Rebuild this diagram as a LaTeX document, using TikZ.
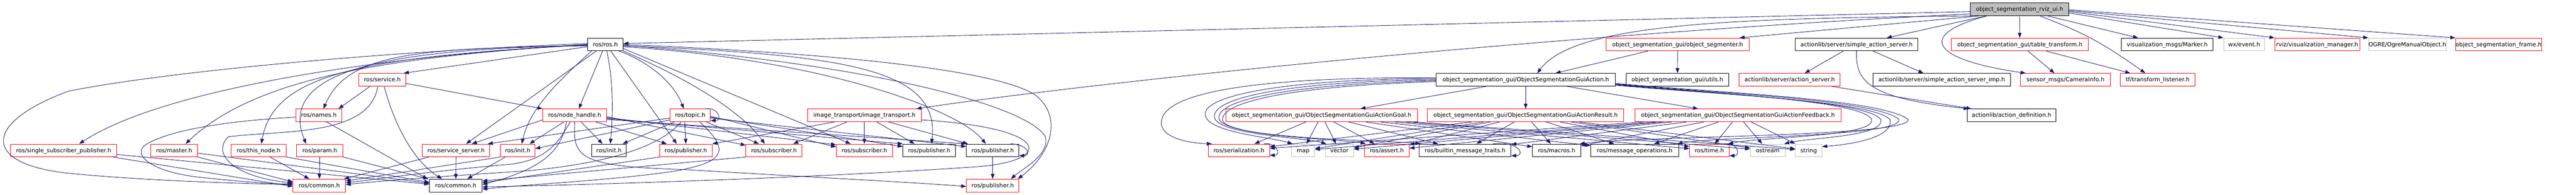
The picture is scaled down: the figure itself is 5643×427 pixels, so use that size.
\documentclass[tikz,border=0pt]{standalone}
\usepackage{fontspec}
\setmainfont{DejaVu Sans}
\usetikzlibrary{arrows.meta}
\definecolor{edgec}{HTML}{191970}
\definecolor{redb}{HTML}{FF0000}
\definecolor{grayb}{HTML}{BFBFBF}
\begin{document}
\begin{tikzpicture}[x=1pt,y=-1pt,
 nbox/.style={rectangle,draw=black,line width=1pt,inner sep=0pt,minimum height=28pt,font=\fontsize{12.6}{14}\selectfont,text height=10pt,text depth=1.5pt,fill=white},
 rbox/.style={nbox,draw=redb},
 gbox/.style={nbox,draw=grayb},
 tbox/.style={nbox,fill=grayb},
 edg/.style={draw=edgec,line width=1pt,-{Triangle[length=11pt,width=8pt]}},
]
\useasboundingbox (0,0) rectangle (5643,427);
% row 0
\node[tbox,minimum width=216pt] (T) at (4424,20.5) {object\_segmentation\_rviz\_ui.h};
% row 1
\node[nbox,minimum width=78pt] (R) at (1326,97.5) {ros/ros.h};
\node[rbox,minimum width=314pt] (OS) at (3675,97.5) {object\_segmentation\_gui/object\_segmenter.h};
\node[nbox,minimum width=268pt] (SAS) at (4067,97.5) {actionlib/server/simple\_action\_server.h};
\node[rbox,minimum width=301pt] (TT) at (4424.5,97.5) {object\_segmentation\_gui/table\_transform.h};
\node[nbox,minimum width=201pt] (MK) at (4747.5,97.5) {visualization\_msgs/Marker.h};
\node[gbox,minimum width=90pt] (WX) at (4916,97.5) {wx/event.h};
\node[rbox,minimum width=186pt] (VM) at (5076,97.5) {rviz/visualization\_manager.h};
\node[gbox,minimum width=169pt] (OG) at (5273.5,97.5) {OGRE/OgreManualObject.h};
\node[rbox,minimum width=189pt] (FR) at (5473.5,97.5) {object\_segmentation\_frame.h};
% row 2
\node[rbox,minimum width=103pt] (SV) at (837.5,175) {ros/service.h};
\node[nbox,minimum width=393pt] (A) at (3342.5,175) {object\_segmentation\_gui/ObjectSegmentationGuiAction.h};
\node[nbox,minimum width=225pt] (UT) at (3674.5,175) {object\_segmentation\_gui/utils.h};
\node[rbox,minimum width=221pt] (AS) at (3920.5,175) {actionlib/server/action\_server.h};
\node[nbox,minimum width=301pt] (SAI) at (4253.5,175) {actionlib/server/simple\_action\_server\_imp.h};
\node[rbox,minimum width=197pt] (CI) at (4524.5,175) {sensor\_msgs/CameraInfo.h};
\node[rbox,minimum width=163pt] (TL) at (4726.5,175) {tf/transform\_listener.h};
% row 3
\node[rbox,minimum width=101pt] (NM) at (698.5,253) {ros/names.h};
\node[rbox,minimum width=140pt] (NH) at (1259,253) {ros/node\_handle.h};
\node[rbox,minimum width=88pt] (TP) at (1512,253) {ros/topic.h};
\node[rbox,minimum width=249pt] (IT) at (1893.5,253) {image\_transport/image\_transport.h};
\node[rbox,minimum width=420pt] (GO) at (2895,253) {object\_segmentation\_gui/ObjectSegmentationGuiActionGoal.h};
\node[rbox,minimum width=430pt] (RE) at (3342,253) {object\_segmentation\_gui/ObjectSegmentationGuiActionResult.h};
\node[rbox,minimum width=452pt] (FB) at (3807,253) {object\_segmentation\_gui/ObjectSegmentationGuiActionFeedback.h};
\node[nbox,minimum width=195pt] (AD) at (4406.5,253) {actionlib/action\_definition.h};
% row 4
\node[rbox,minimum width=233pt] (SSP) at (139.5,330) {ros/single\_subscriber\_publisher.h};
\node[rbox,minimum width=103pt] (MA) at (381.5,330) {ros/master.h};
\node[rbox,minimum width=121pt] (TN) at (566.5,330) {ros/this\_node.h};
\node[rbox,minimum width=101pt] (PA) at (700.5,330) {ros/param.h};
\node[rbox,minimum width=148pt] (SS) at (999,330) {ros/service\_server.h};
\node[rbox,minimum width=76pt] (IR) at (1134,330) {ros/init.h};
\node[nbox,minimum width=76pt] (IB) at (1334,330) {ros/init.h};
\node[rbox,minimum width=115pt] (PR1) at (1502.5,330) {ros/publisher.h};
\node[rbox,minimum width=123pt] (SR1) at (1695.5,330) {ros/subscriber.h};
\node[rbox,minimum width=123pt] (SR2) at (1893.5,330) {ros/subscriber.h};
\node[nbox,minimum width=115pt] (PB1) at (2035.5,330) {ros/publisher.h};
\node[nbox,minimum width=115pt] (PB2) at (2174.5,330) {ros/publisher.h};
\node[rbox,minimum width=134pt] (SE) at (2714,330) {ros/serialization.h};
\node[gbox,minimum width=51pt] (MP) at (2854.5,330) {map};
\node[gbox,minimum width=62pt] (VC) at (2934,330) {vector};
\node[rbox,minimum width=98pt] (AT) at (3038,330) {ros/assert.h};
\node[nbox,minimum width=201pt] (BT) at (3209.5,330) {ros/builtin\_message\_traits.h};
\node[nbox,minimum width=106pt] (MC) at (3410,330) {ros/macros.h};
\node[nbox,minimum width=192pt] (MO) at (3581,330) {ros/message\_operations.h};
\node[rbox,minimum width=87pt] (TM) at (3744.5,330) {ros/time.h};
\node[gbox,minimum width=77pt] (OS2) at (3872.5,330) {ostream};
\node[gbox,minimum width=58pt] (ST) at (3962,330) {string};
% row 5
\node[rbox,minimum width=115pt] (CR) at (699.5,407) {ros/common.h};
\node[nbox,minimum width=115pt] (CB) at (998.5,407) {ros/common.h};
\node[rbox,minimum width=115pt] (PR5) at (2174.5,407) {ros/publisher.h};

% ---- edges from the top node
\draw[edg] ([yshift=-5pt]T.west) -- ([yshift=2pt]R.east);
\draw[edg] ([yshift=-10pt]T.west) .. controls (3400,75) and (2400,180) .. ([xshift=-11pt]IT.north east);
\draw[edg] ([xshift=6pt]T.south west) .. controls (3800,40) and (3450,50) .. ([xshift=25pt]A.north);
\draw[edg] ([xshift=20pt]T.south west) -- ([xshift=-22pt]OS.north east);
\draw[edg] ([xshift=35pt]T.south west) -- ([xshift=66pt]SAS.north);
\draw[edg] (T) -- (TT);
\draw[edg] ([xshift=37pt]T.south west) .. controls (4200,75) and (4225,130) .. ([xshift=-87pt]CI.north);
\draw[edg] ([xshift=-64pt]T.south east) .. controls (4560,70) and (4600,90) .. ([xshift=-27pt]TL.north);
\draw[edg] ([xshift=-47pt]T.south east) -- ([xshift=-64pt]MK.north);
\draw[edg] ([yshift=-8pt]T.east) -- (WX.north west);
\draw[edg] ([yshift=-5pt]T.east) -- (VM.north west);
\draw[edg] ([yshift=-3pt]T.east) -- (OG.north west);
\draw[edg] ([yshift=-1pt]T.east) -- (FR.north west);
% ---- actionlib / segmenter
\draw[edg] (OS) -- (UT);
\draw[edg] ([xshift=-65pt]OS.south) -- ([xshift=65pt]A.north);
\draw[edg] ([xshift=-29pt]SAS.south) -- ([xshift=33pt]AS.north);
\draw[edg] ([xshift=36pt]SAS.south) -- ([xshift=-40pt]SAI.north);
\draw[edg] (SAS.south) .. controls (4065,175) and (4085,215) .. ([xshift=4pt]AD.north west);
\draw[edg] ([xshift=92pt]AS.south) -- ([xshift=10pt]AD.north west);
\draw[edg] ([xshift=18pt]TT.south) -- ([xshift=-24pt]CI.north);
\draw[edg] ([xshift=58pt]TT.south) -- ([xshift=-60pt]TL.north);
% ---- action messages
\draw[edg] (A) -- (RE);
\draw[edg] ([xshift=-86pt]A.south) -- ([xshift=85pt]GO.north);
\draw[edg] ([xshift=90pt]A.south) -- ([xshift=-87pt]FB.north);
\foreach \s in {GO,RE,FB}{\foreach \t in {SE,MP,VC,AT,BT,MC,MO,TM,OS2,ST}{\draw[edg] (\s) -- (\t);}}
\draw[edg] ([yshift=4pt]A.west) .. controls (2800,168) and (2560,195) .. (2545,262) .. controls (2535,300) and (2600,314) .. ([xshift=8pt]SE.north west);
\draw[edg] ([yshift=2pt]A.west) .. controls (2850,172) and (2640,205) .. (2640,250) .. controls (2640,290) and (2780,300) .. ([xshift=3pt]MP.north west);
\draw[edg] (A.west) .. controls (2850,178) and (2660,210) .. (2660,255) .. controls (2660,295) and (2860,302) .. ([xshift=3pt]VC.north west);
\draw[edg] ([yshift=-2pt]A.west) .. controls (2850,184) and (2670,215) .. (2670,258) .. controls (2670,300) and (2950,306) .. ([xshift=3pt]AT.north west);
\draw[edg] ([yshift=-4pt]A.west) .. controls (2850,188) and (2678,220) .. (2678,262) .. controls (2678,306) and (3050,308) .. ([xshift=3pt]BT.north west);
\draw[edg] ([yshift=-10pt]A.east) .. controls (3750,205) and (4080,220) .. (4100,262) .. controls (4110,300) and (3860,300) .. ([xshift=-3pt]TM.north east);
\draw[edg] ([yshift=-11pt]A.east) .. controls (3750,206) and (4090,220) .. (4120,262) .. controls (4130,300) and (3960,302) .. ([xshift=-3pt]OS2.north east);
\draw[edg] ([yshift=-12pt]A.east) .. controls (3750,207) and (4100,220) .. (4140,262) .. controls (4150,305) and (4040,318) .. ([yshift=-6pt]ST.north east);
\draw[edg] ([yshift=-9pt]A.east) .. controls (3750,204) and (4110,218) .. (4160,262) .. controls (4170,300) and (3750,300) .. ([xshift=-3pt]MO.north east);
\draw[edg] ([yshift=-8pt]A.east) .. controls (3750,203) and (4120,216) .. (4180,262) .. controls (4190,300) and (3600,298) .. ([xshift=-3pt]MC.north east);
% self loops
\draw[edg] ([xshift=-12pt]SE.north east) .. controls +(26pt,4pt) and +(26pt,0pt) .. ([yshift=4pt]SE.south east);
\draw[edg] ([xshift=-40pt]BT.north east) .. controls +(60pt,6pt) and +(30pt,0pt) .. ([yshift=3pt]BT.south east);
\draw[edg] ([xshift=-12pt]TM.north east) .. controls +(30pt,4pt) and +(26pt,0pt) .. ([yshift=3pt]TM.south east);
\draw[edg] ([xshift=-12pt]TP.north east) .. controls +(30pt,4pt) and +(26pt,0pt) .. ([yshift=3pt]TP.south east);
\draw[edg] ([xshift=-18pt]PB2.north east) .. controls +(40pt,-2pt) and +(26pt,0pt) .. ([yshift=3pt]PB2.south east);
% ---- ros.h
\draw[edg] ([yshift=-5pt]R.west) -- ([xshift=-5pt]SV.north east);
\draw[edg] ([yshift=2pt]R.west) .. controls (800,115) and (350,160) .. (150,200) .. controls (-40,270) and (-40,360) .. (150,380) .. controls (300,395) and (500,402) .. ([yshift=2pt]CR.west);
\draw[edg] (R.west) .. controls (800,125) and (350,200) .. ([xshift=34pt]SSP.north);
\draw[edg] (R.west) .. controls (850,125) and (560,170) .. ([xshift=25pt]MA.north);
\draw[edg] ([yshift=-1pt]R.west) .. controls (800,125) and (600,160) .. ([xshift=6pt]TN.north);
\draw[edg] ([yshift=-2pt]R.west) .. controls (900,108) and (600,140) .. ([xshift=-30pt]PA.north);
\draw[edg] ([yshift=-3pt]R.west) .. controls (900,105) and (760,120) .. ([xshift=10pt]NM.north);
\draw[edg] ([xshift=-20pt]R.south) -- ([xshift=22pt]SS.north);
\draw[edg] ([xshift=-30pt]R.south) .. controls (1220,180) and (1160,240) .. ([xshift=9pt]IR.north);
\draw[edg] ([xshift=-6pt]R.south) -- ([xshift=9pt]NH.north);
\draw[edg] ([xshift=3pt]R.south) .. controls (1345,180) and (1342,260) .. ([xshift=3pt]IB.north);
\draw[edg] ([xshift=12pt]R.south) -- ([xshift=-20pt]PR1.north);
\draw[edg] ([xshift=30pt]R.south) .. controls (1420,135) and (1475,180) .. ([xshift=-14pt]TP.north);
\draw[edg] (R.south east) .. controls (1500,170) and (1620,240) .. ([xshift=-20pt]SR1.north);
\draw[edg] ([yshift=-9pt]R.east) -- ([xshift=-30pt]SR2.north);
\draw[edg] ([yshift=-3pt]R.east) .. controls (1850,120) and (2060,150) .. ([xshift=5pt]PB1.north);
\draw[edg] ([yshift=-5pt]R.east) .. controls (1800,130) and (2100,240) .. ([xshift=-15pt]PB2.north);
\draw[edg] (R.east) .. controls (1900,120) and (2200,160) .. (2270,210) .. controls (2330,260) and (2300,340) .. ([xshift=-3pt]PR5.north east);
\draw[edg] ([yshift=-2pt]R.east) .. controls (1900,140) and (2250,230) .. (2290,300) .. controls (2300,340) and (2240,370) .. ([xshift=-18pt]PR5.north east);
% ---- service.h, names.h
\draw[edg] ([xshift=-27pt]SV.south) -- ([xshift=-8pt]NM.north east);
\draw[edg] ([xshift=4pt]SV.south) .. controls (860,260) and (900,350) .. ([xshift=-30pt]CB.north);
\draw[edg] ([xshift=-10pt]SV.south) .. controls (810,300) and (620,285) .. (500,300) .. controls (460,340) and (520,390) .. ([yshift=6pt]CR.west);
\draw[edg] ([yshift=-8pt]SV.east) -- (NH.north west);
\draw[edg] ([yshift=-4pt]NM.west) .. controls (500,265) and (370,285) .. (318,318) .. controls (290,340) and (330,375) .. (430,388) .. controls (520,398) and (600,404) .. ([yshift=4pt]CR.west);
\draw[edg] ([xshift=17pt]NM.south) -- ([xshift=-4pt]CB.north west);
% ---- row 4 left to row 5
\draw[edg] ([xshift=-9pt]SSP.south east) -- ([yshift=-2pt]CR.west);
\draw[edg] ([yshift=-9pt]SSP.east) -- ([yshift=3pt]CB.west);
\draw[edg] (MA.south east) -- ([yshift=8pt]CR.west);
\draw[edg] ([yshift=-6pt]MA.east) -- ([yshift=5pt]CB.west);
\draw[edg] ([xshift=25pt]TN.south) -- ([xshift=-22pt]CR.north);
\draw[edg] (TN.south east) -- ([yshift=7pt]CB.west);
\draw[edg] (PA) -- (CR);
\draw[edg] (PA.south east) -- ([xshift=-2pt]CB.north west);
\draw[edg] ([xshift=15pt]SS.south west) -- ([xshift=-4pt]CR.north east);
\draw[edg] (SS) -- (CB);
\draw[edg] (IR.south west) -- ([yshift=10pt]CR.east);
\draw[edg] ([xshift=-27pt]IR.south) -- ([xshift=25pt]CB.north);
% ---- node_handle.h
\draw[edg] ([yshift=-10pt]NH.west) -- ([xshift=-40pt]SS.north east);
\draw[edg] ([xshift=-24pt]NH.south) -- ([xshift=26pt]IR.north);
\draw[edg] ([xshift=-10pt]NH.south) .. controls (1225,310) and (1200,350) .. (1120,360) .. controls (950,375) and (850,390) .. ([yshift=6pt]CR.east);
\draw[edg] ([xshift=-18pt]NH.south) .. controls (1230,330) and (1190,370) .. ([yshift=2pt]CB.east);
\draw[edg] ([xshift=14pt]NH.south) -- ([xshift=-14pt]IB.north);
\draw[edg] ([xshift=46pt]NH.south) -- ([xshift=-42pt]PR1.north);
\draw[edg] (NH.south) .. controls (1255,345) and (1265,365) .. (1500,372) .. controls (1800,390) and (2000,400) .. ([yshift=-2pt]PR5.west);
\draw[edg] ([yshift=-3pt]NH.east) -- ([yshift=-3pt]SR1.north west);
\draw[edg] ([yshift=-5pt]NH.east) -- ([yshift=-2pt]SR2.north west);
\draw[edg] ([yshift=-7pt]NH.east) -- (PB1.north west);
\draw[edg] ([yshift=-9pt]NH.east) -- (PB2.north west);
% ---- topic.h
\draw[edg] ([yshift=-6pt]TP.west) -- ([xshift=-5pt]SS.north east);
\draw[edg] ([yshift=-10pt]TP.west) -- ([yshift=4pt]IR.east);
\draw[edg] ([xshift=-35pt]TP.south) -- ([xshift=30pt]IB.north);
\draw[edg] ([xshift=-12pt]TP.south) -- (PR1.north);
\draw[edg] ([xshift=35pt]TP.south) -- ([xshift=-33pt]SR1.north);
\draw[edg] ([yshift=-2pt]TP.east) -- ([yshift=-7pt]SR2.north west);
\draw[edg] ([yshift=-4pt]TP.east) -- ([yshift=-6pt]PB1.north west);
\draw[edg] ([yshift=-6pt]TP.east) -- ([yshift=-6pt]PB2.north west);
\draw[edg] ([xshift=-20pt]TP.south) .. controls (1440,330) and (1300,362) .. (1150,375) .. controls (1000,385) and (850,395) .. ([yshift=2pt]CR.east);
\draw[edg] ([xshift=21pt]TP.south) .. controls (1600,330) and (1590,355) .. (1480,375) .. controls (1350,395) and (1150,405) .. ([yshift=-8pt]CB.east);
% ---- image_transport.h
\draw[edg] ([xshift=-65pt]IT.south) -- (PR1.north east);
\draw[edg] ([xshift=-38pt]IT.south) -- ([xshift=42pt]SR1.north);
\draw[edg] (IT) -- (SR2);
\draw[edg] ([xshift=27pt]IT.south) -- ([xshift=-32pt]PB1.north);
\draw[edg] ([xshift=53pt]IT.south) -- ([xshift=4pt]PB2.north west);
\draw[edg] ([yshift=-10pt]IT.east) .. controls (2300,280) and (2310,350) .. (2150,365) .. controls (1800,390) and (1300,405) .. ([yshift=-3pt]CB.east);
% ---- publisher / subscriber
\draw[edg] (PR1.south west) -- ([yshift=6pt]CB.east);
\draw[edg] (SR1.south west) -- ([yshift=10pt]CB.east);
\draw[edg] (PB2) -- (PR5);
\end{tikzpicture}
\end{document}
